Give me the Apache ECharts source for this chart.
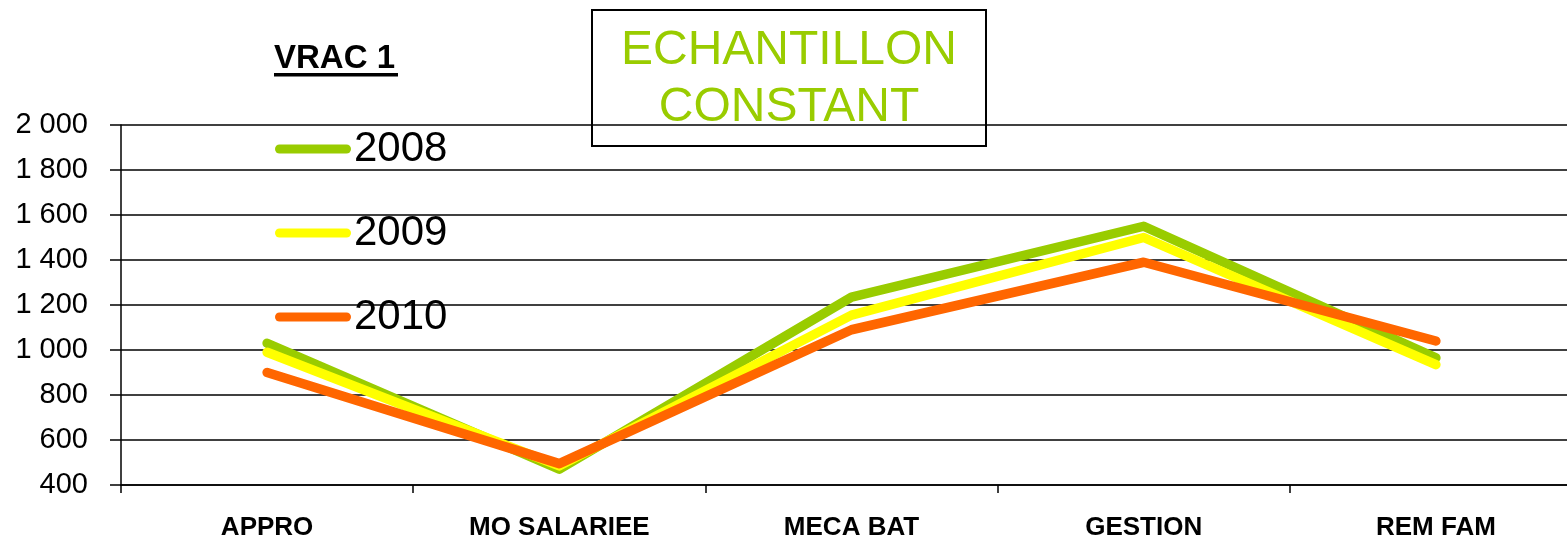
<!DOCTYPE html>
<html>
<head>
<meta charset="utf-8">
<script src="https://cdn.jsdelivr.net/npm/echarts@6/dist/echarts.min.js"></script>
<style>
	html, body { margin: 0; padding: 0; background: #fff; overflow: hidden; }
	/* the plot runs a bit past the right edge of the picture */
	#chart { width: 1582px; height: 539px; }
</style>
</head>
<body>
<div id="chart"></div>
<script>
// categories and values per year
const categories = ['APPRO', 'MO SALARIEE', 'MECA BAT', 'GESTION', 'REM FAM'];
const years = ['2008', '2009', '2010'];
const values2008 = [1030, 470, 1235, 1550, 965];
const values2009 = [990, 485, 1155, 1500, 935];
const values2010 = [900, 495, 1090, 1390, 1040];
const yTicks = [400, 600, 800, 1000, 1200, 1400, 1600, 1800, 2000];

const colors = ['#99CC00', '#FFFF00', '#FF6600'];
const font = 'Liberation Sans, Arial, sans-serif';

// 2 000 style labels
const formatNumber = (v) => String(v).replace(/\B(?=(\d{3})+(?!\d))/g, ' ');

const makeSeries = (name, data, color) => ({
	name: name,
	type: 'line',
	data: data,
	color: color,
	showSymbol: false,
	symbol: 'none',
	lineStyle: { color: color, width: 9.5, cap: 'round', join: 'round' },
	emphasis: { disabled: true },
});

const chart = echarts.init(document.getElementById('chart'));

const option = {
	backgroundColor: '#fff',
	animation: false,
	grid: { left: 121, right: 0, top: 125, bottom: 54, outerBoundsMode: 'none' },
	legend: {
		orient: 'vertical',
		left: 275,
		top: 128,
		padding: 0,
		itemWidth: 76,
		itemHeight: 9,
		itemGap: 42,
		icon: 'path://M4.5,0 H71.5 A4.5,4.5 0 0 1 71.5,9 H4.5 A4.5,4.5 0 0 1 4.5,0 Z',
		data: years,
		textStyle: { fontFamily: font, fontSize: 42, color: '#000', lineHeight: 41, padding: [0, 0, 0, -2] },
	},
	xAxis: {
		type: 'category',
		data: categories,
		boundaryGap: true,
		axisLine: { lineStyle: { color: '#000', width: 1.5 } },
		axisTick: { show: true, length: 8, lineStyle: { color: '#000', width: 1.5 } },
		axisLabel: { fontFamily: font, fontSize: 26, fontWeight: 'bold', color: '#000', margin: 30, interval: 0 },
		splitLine: { show: false },
	},
	yAxis: {
		type: 'value',
		min: yTicks[0],
		max: yTicks[yTicks.length - 1],
		interval: 200,
		axisLine: { show: true, lineStyle: { color: '#000', width: 1.5 } },
		axisTick: { show: true, length: 11, lineStyle: { color: '#000', width: 1.5 } },
		axisLabel: { fontFamily: font, fontSize: 29, color: '#000', margin: 33, formatter: formatNumber },
		splitLine: { show: true, lineStyle: { color: '#000', width: 1.5 } },
	},
	graphic: [
		{
			type: 'rect',
			z: 0,
			shape: { x: 592, y: 10, width: 394, height: 136 },
			style: { fill: 'none', stroke: '#000', lineWidth: 2 },
		},
		{
			type: 'text',
			z: 0,
			style: { text: 'ECHANTILLON', x: 789, y: 51, font: '48px ' + font, fill: '#99CC00', textAlign: 'center', textVerticalAlign: 'middle' },
		},
		{
			type: 'text',
			z: 0,
			style: { text: 'CONSTANT', x: 789, y: 108, font: '48px ' + font, fill: '#99CC00', textAlign: 'center', textVerticalAlign: 'middle' },
		},
		{
			type: 'text',
			style: { text: 'VRAC 1', x: 274, y: 59, font: 'bold 33px ' + font, fill: '#000', textAlign: 'left', textVerticalAlign: 'middle' },
		},
		{
			type: 'rect',
			shape: { x: 274, y: 73, width: 124, height: 3.5 },
			style: { fill: '#000' },
		},
	],
	series: [
		makeSeries(years[0], values2008, colors[0]),
		makeSeries(years[1], values2009, colors[1]),
		makeSeries(years[2], values2010, colors[2]),
	],
};

chart.setOption(option);
</script>
</body>
</html>
